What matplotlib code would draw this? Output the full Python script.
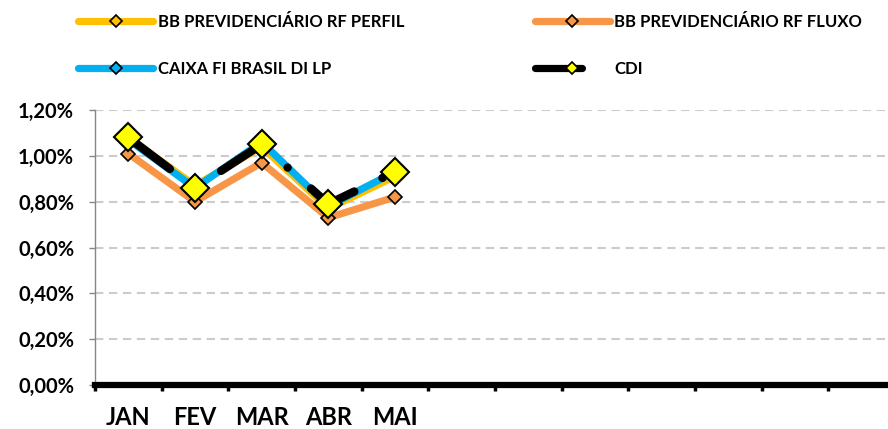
import matplotlib
matplotlib.use("Agg")
import matplotlib.pyplot as plt
from matplotlib.lines import Line2D
from matplotlib.ticker import FuncFormatter, FixedLocator

plt.rcParams["font.family"] = ["Lato", "DejaVu Sans"]
plt.rcParams["font.weight"] = "bold"

# data (% a.m.)
months = ["JAN", "FEV", "MAR", "ABR", "MAI", "", "", "", "", "", "", ""]
perfil = [1.08, 0.87, 1.04, 0.77, 0.91]
fluxo = [1.01, 0.80, 0.97, 0.73, 0.82]
caixa = [1.07, 0.86, 1.06, 0.78, 0.93]
cdi = [1.08, 0.86, 1.05, 0.79, 0.93]

names = ["BB PREVIDENCIÁRIO RF PERFIL", "BB PREVIDENCIÁRIO RF FLUXO",
         "CAIXA FI BRASIL DI LP", "CDI"]
colors = ["#FFC000", "#F79646", "#00B0F0", "#000000"]

fig = plt.figure(figsize=(8.88, 4.29), dpi=100)
ax = fig.add_axes([95 / 888, 44 / 429, 800 / 888, 275 / 429])

x = list(range(len(perfil)))
lw = 5.2
ax.plot(x, perfil, color=colors[0], lw=lw, marker="D", ms=7,
        mfc=colors[0], mec="black", mew=1.2, zorder=3, solid_capstyle="round")
ax.plot(x, fluxo, color=colors[1], lw=lw, marker="D", ms=7,
        mfc=colors[1], mec="black", mew=1.2, zorder=3, solid_capstyle="round")
ax.plot(x, caixa, color=colors[2], lw=lw, marker="D", ms=7,
        mfc=colors[2], mec="black", mew=1.2, zorder=4, solid_capstyle="round")
ax.plot(x, cdi, color="black", lw=6, linestyle=(0, (6.25, 3.75, 0.01, 3.75)),
        dash_capstyle="round", zorder=5)
ax.plot(x, cdi, ls="none", marker="D", ms=14, mfc="#FFFF00", mec="black",
        mew=1.5, zorder=6)

ax.set_xlim(-0.5, len(months) - 0.5)
ax.set_ylim(0, 1.2)
ax.set_yticks([0, 0.2, 0.4, 0.6, 0.8, 1.0, 1.2])
ax.yaxis.set_major_formatter(FuncFormatter(lambda v, p: f"{v:.2f}%".replace(".", ",")))
ax.set_xticks(range(len(months)))
ax.set_xticklabels(months)
ax.xaxis.set_minor_locator(FixedLocator([i - 0.5 for i in range(len(months) + 1)]))

ax.grid(axis="y", color="#CCCCCC", lw=1.5, linestyle=(0, (4, 2.7)))
ax.set_axisbelow(True)
for s in ["top", "right"]:
    ax.spines[s].set_visible(False)
ax.spines["left"].set_color("#868686")
ax.spines["left"].set_linewidth(1)
ax.spines["bottom"].set_color("black")
ax.spines["bottom"].set_linewidth(4.5)
ax.spines["bottom"].set_zorder(7)

ax.tick_params(axis="y", length=4, color="#868686", width=1, pad=11, labelsize=14.5)
ax.tick_params(axis="x", which="major", length=0, pad=15, labelsize=17)
ax.tick_params(axis="x", which="minor", length=4, width=2.5, color="black")

handles = [
    Line2D([], [], color=colors[0], lw=lw, marker="D", ms=6, mfc=colors[0],
           mec="black", mew=1.2, solid_capstyle="round"),
    Line2D([], [], color=colors[2], lw=lw, marker="D", ms=6, mfc=colors[2],
           mec="black", mew=1.2, solid_capstyle="round"),
    Line2D([], [], color=colors[1], lw=lw, marker="D", ms=6, mfc=colors[1],
           mec="black", mew=1.2, solid_capstyle="round"),
    Line2D([], [], color="black", lw=lw, linestyle=(0, (6.5, 20)),
           dash_capstyle="round", marker="D", ms=6, mfc="#FFFF00",
           mec="black", mew=1.2),
]
labels = [names[0], names[2], names[1], names[3]]
fig.legend(handles, labels, ncol=2, loc="upper left",
           bbox_to_anchor=(78 / 888, 1 - 14 / 429), frameon=False,
           prop={"size": 12, "weight": "bold"}, handlelength=4.5,
           handletextpad=0.3, labelspacing=1.85, columnspacing=7.8,
           borderpad=0, borderaxespad=0)

fig.savefig("out.png", dpi=100)
